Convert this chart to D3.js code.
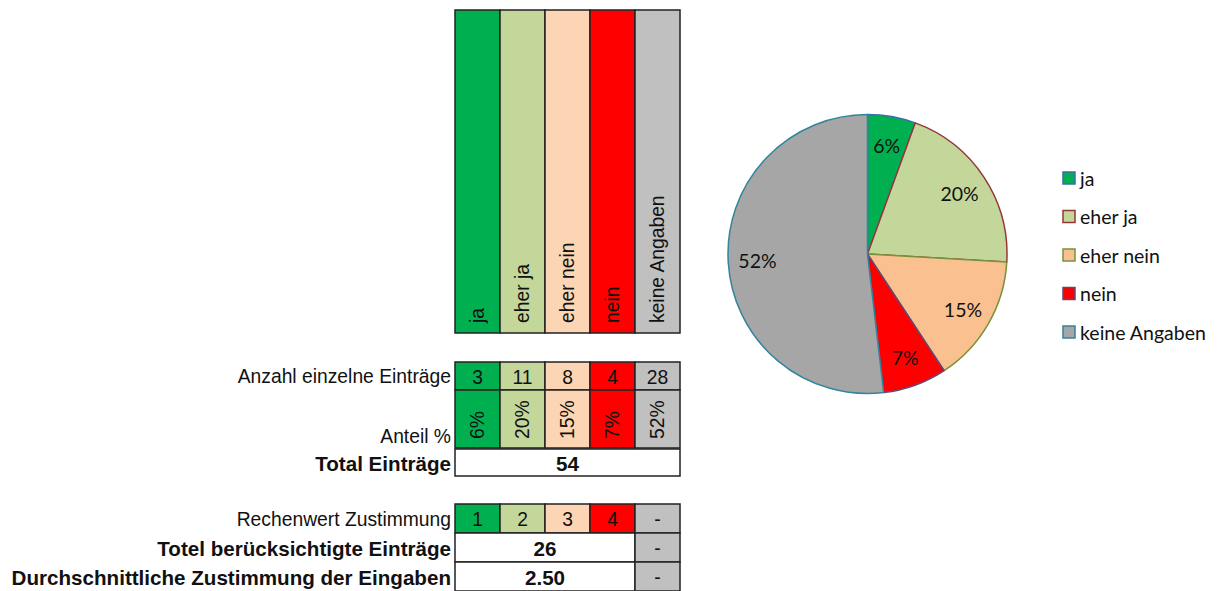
<!DOCTYPE html>
<html>
<head>
<meta charset="utf-8">
<script src="https://cdn.jsdelivr.net/npm/d3@7"></script>
<style>
  body { margin: 0; background: #fff; }
  svg { display: block; }
  .tbl { font-family: "Liberation Sans", Arial, sans-serif; font-size: 19.3px; fill: #111; }
  .bold { font-weight: bold; font-size: 20.6px; }
  .pie { font-family: Lato, "Open Sans", sans-serif; font-size: 19.5px; fill: #111; }
</style>
</head>
<body>
<svg id="chart" width="1224" height="591"></svg>
<script>
// Kategorien und Werte
const categories = ["ja", "eher ja", "eher nein", "nein", "keine Angaben"];
const counts = [3, 11, 8, 4, 28];
const weights = [1, 2, 3, 4, null];   // Rechenwert Zustimmung, null = "-"

const rowLabels = {
  anzahl: "Anzahl einzelne Einträge",
  anteil: "Anteil %",
  total: "Total Einträge",
  rechenwert: "Rechenwert Zustimmung",
  totel: "Totel berücksichtigte Einträge",
  schnitt: "Durchschnittliche Zustimmung der Eingaben"
};

// Farben (Tabelle / Kuchen)
const cellColors = ["#00B050", "#C4D79B", "#FCD5B4", "#FF0000", "#C0C0C0"];
const sliceColors = ["#00B050", "#C4D79B", "#FAC090", "#FF0000", "#A6A6A6"];
const sliceStrokes = ["#3A6EA5", "#953735", "#77933C", "#5F497A", "#31859C"];

const total = d3.sum(counts);
const considered = d3.sum(counts.filter((c, i) => weights[i] !== null));
const average = d3.sum(counts.map((c, i) => weights[i] === null ? 0 : c * weights[i])) / considered;
const pct = d3.format(".0%");

const svg = d3.select("#chart");
const x = d3.scaleBand().domain(categories).range([455, 680]);
const labelX = 451;
const lineColor = "#222";

/*
* Zelle zeichnen
*/
function cell(g, x0, y0, w, h, fill) {
  g.append("rect")
    .attr("x", x0).attr("y", y0)
    .attr("width", w).attr("height", h)
    .attr("fill", fill)
    .attr("stroke", lineColor)
    .attr("stroke-width", 1.5);
}

function rowLabel(y, text, bold) {
  svg.append("text")
    .attr("class", "tbl" + (bold ? " bold" : ""))
    .attr("x", labelX).attr("y", y)
    .attr("text-anchor", "end")
    .attr("dominant-baseline", "central")
    .text(text);
}

// Kopfzeile mit gedrehten Kategorien
const head = svg.append("g");
categories.forEach((c, i) => {
  cell(head, x(c), 10, x.bandwidth(), 323, cellColors[i]);
  head.append("text")
    .attr("class", "tbl")
    .attr("transform", `translate(${x(c) + x.bandwidth() / 2},323) rotate(-90)`)
    .attr("dominant-baseline", "central")
    .text(c);
});

// Anzahl einzelne Einträge
const rows = svg.append("g");
categories.forEach((c, i) => {
  cell(rows, x(c), 362, x.bandwidth(), 28, cellColors[i]);
  rows.append("text")
    .attr("class", "tbl")
    .attr("x", x(c) + x.bandwidth() / 2).attr("y", 377)
    .attr("text-anchor", "middle")
    .attr("dominant-baseline", "central")
    .text(counts[i]);
});
rowLabel(376, rowLabels.anzahl, false);

// Anteil %
categories.forEach((c, i) => {
  cell(rows, x(c), 390, x.bandwidth(), 58, cellColors[i]);
  rows.append("text")
    .attr("class", "tbl")
    .attr("transform", `translate(${x(c) + x.bandwidth() / 2},439) rotate(-90)`)
    .attr("dominant-baseline", "central")
    .text(pct(counts[i] / total));
});
svg.append("text")
  .attr("class", "tbl")
  .attr("x", labelX).attr("y", 443)
  .attr("text-anchor", "end")
  .text(rowLabels.anteil);

// Total Einträge
cell(rows, x.range()[0], 449, x.range()[1] - x.range()[0], 27, "#fff");
rows.append("text")
  .attr("class", "tbl bold")
  .attr("x", (x.range()[0] + x.range()[1]) / 2).attr("y", 463)
  .attr("text-anchor", "middle")
  .attr("dominant-baseline", "central")
  .text(total);
rowLabel(463, rowLabels.total, true);

// Rechenwert Zustimmung
const last = categories[categories.length - 1];
categories.forEach((c, i) => {
  cell(rows, x(c), 504, x.bandwidth(), 29, cellColors[i]);
  rows.append("text")
    .attr("class", "tbl")
    .attr("x", x(c) + x.bandwidth() / 2).attr("y", 519)
    .attr("text-anchor", "middle")
    .attr("dominant-baseline", "central")
    .text(weights[i] === null ? "-" : weights[i]);
});
rowLabel(519, rowLabels.rechenwert, false);

// Totel berücksichtigte Einträge / Durchschnitt
[[533, considered, rowLabels.totel], [562, d3.format(".2f")(average), rowLabels.schnitt]].forEach(([y0, val, lab]) => {
  cell(rows, x.range()[0], y0, x(last) - x.range()[0], 29, "#fff");
  cell(rows, x(last), y0, x.bandwidth(), 29, cellColors[4]);
  rows.append("text")
    .attr("class", "tbl bold")
    .attr("x", (x.range()[0] + x(last)) / 2).attr("y", y0 + 15)
    .attr("text-anchor", "middle")
    .attr("dominant-baseline", "central")
    .text(val);
  rows.append("text")
    .attr("class", "tbl")
    .attr("x", x(last) + x.bandwidth() / 2).attr("y", y0 + 15)
    .attr("text-anchor", "middle")
    .attr("dominant-baseline", "central")
    .text("-");
  rowLabel(y0 + 15, lab, true);
});

// Kuchendiagramm
const cx = 867.5, cy = 254, r = 139.5;
const pie = d3.pie().sort(null).value(d => d.count);
const arcs = pie(categories.map((c, i) => ({ cat: c, count: counts[i], i: i })));
const arc = d3.arc().innerRadius(0).outerRadius(r);
const labelArc = d3.arc().innerRadius(r * 0.79).outerRadius(r * 0.79);
const pg = svg.append("g").attr("transform", `translate(${cx},${cy})`);

pg.selectAll("path")
  .data(arcs)
  .enter()
  .append("path")
  .attr("d", arc)
  .attr("fill", d => sliceColors[d.data.i])
  .attr("stroke", d => sliceStrokes[d.data.i])
  .attr("stroke-width", 1.5)
  .attr("stroke-linejoin", "round");

pg.selectAll("text")
  .data(arcs)
  .enter()
  .append("text")
  .attr("class", "pie")
  .attr("transform", d => `translate(${labelArc.centroid(d)})`)
  .attr("text-anchor", "middle")
  .attr("dominant-baseline", "central")
  .text(d => pct(d.data.count / total));

// Legende
const leg = svg.append("g").attr("transform", "translate(1063,0)");
const ly = d3.scalePoint().domain(categories).range([178, 332]);
categories.forEach((c, i) => {
  leg.append("rect")
    .attr("x", 0).attr("y", ly(c) - 6)
    .attr("width", 12).attr("height", 12)
    .attr("fill", sliceColors[i])
    .attr("stroke", sliceStrokes[i])
    .attr("stroke-width", 1.5);
  leg.append("text")
    .attr("class", "pie")
    .attr("x", 17).attr("y", ly(c))
    .attr("dominant-baseline", "central")
    .text(c);
});
</script>
</body>
</html>
